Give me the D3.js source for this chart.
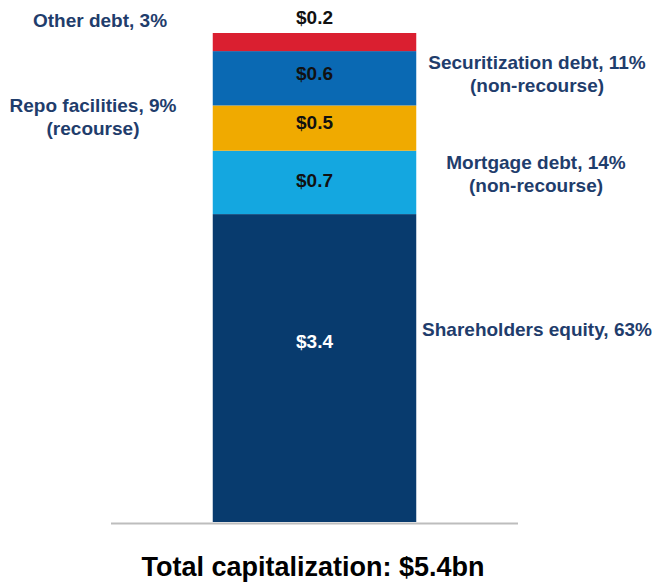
<!DOCTYPE html>
<html>
<head>
<meta charset="utf-8">
<script src="https://cdn.jsdelivr.net/npm/d3@7"></script>
<style>
  html, body { margin: 0; padding: 0; background: #fff; }
  svg { display: block; font-family: "Liberation Sans", Arial, sans-serif; font-weight: bold; }
</style>
</head>
<body>
<svg id="chart" width="656" height="582"></svg>
<script>
// Capital structure components, bottom to top ($bn)
const segments = ["Shareholders equity", "Mortgage debt", "Repo facilities", "Securitization debt", "Other debt"];
const values = [3.4, 0.7, 0.5, 0.6, 0.2];
const valueLabels = ["$3.4", "$0.7", "$0.5", "$0.6", "$0.2"];
const shareLabels = ["Shareholders equity, 63%", "Mortgage debt, 14%", "Repo facilities, 9%", "Securitization debt, 11%", "Other debt, 3%"];
const subLabels = ["", "(non-recourse)", "(recourse)", "(non-recourse)", ""];
const colors = ["#083b6e", "#14a7e0", "#f0aa00", "#0a69b3", "#da1f30"];
const valueColors = ["#ffffff", "#111111", "#111111", "#111111", "#111111"];
const categories = ["Total capitalization"];
const totalLabel = "Total capitalization: $5.4bn";

const svg = d3.select("#chart");
const total = d3.sum(values);

const y = d3.scaleLinear().domain([0, total]).range([522, 33]);
const x = d3.scaleBand().domain(categories).range([111, 518]).paddingInner(0).paddingOuter(0.5);

// stack offsets
const stacked = [];
let acc = 0;
values.forEach((v, i) => { stacked.push({ i, y0: acc, y1: acc + v }); acc += v; });

const g = svg.append("g");

g.selectAll("rect.seg")
  .data(stacked)
  .join("rect")
  .attr("class", "seg")
  .attr("x", x(categories[0]))
  .attr("width", x.bandwidth())
  .attr("y", d => y(d.y1))
  .attr("height", d => y(d.y0) - y(d.y1))
  .attr("fill", d => colors[d.i]);

// baseline
g.append("line")
  .attr("x1", x.range()[0]).attr("x2", x.range()[1])
  .attr("y1", y(0) + 1.5).attr("y2", y(0) + 1.5)
  .attr("stroke", "#bdbdbd").attr("stroke-width", 2);

const cx = x(categories[0]) + x.bandwidth() / 2;
const fs = 19;
const capMid = 7;

// value labels: inside each segment, above the bar for the thin top one
const valueOffset = [-27, -2, -6, -5, 0];
g.selectAll("text.val")
  .data(stacked)
  .join("text")
  .attr("class", "val")
  .attr("x", cx)
  .attr("y", d => d.i === 4 ? y(d.y1) - 16 + capMid : (y(d.y0) + y(d.y1)) / 2 + valueOffset[d.i] + capMid)
  .attr("text-anchor", "middle")
  .attr("font-size", fs)
  .attr("fill", d => valueColors[d.i])
  .text(d => valueLabels[d.i]);

// category labels on both sides of the bar
const labelColor = "#1f3d6c";
const side = [
  { x: 537, dy: -39 }, // equity
  { x: 536, dy: -20 }, // mortgage
  { x: 93,  dy: -23 }, // repo
  { x: 537, dy: -16 }, // securitization
  { x: 100, dy: -22 }  // other
];

stacked.forEach(d => {
  const s = side[d.i];
  const mid = (y(d.y0) + y(d.y1)) / 2;
  const t = g.append("text")
    .attr("x", s.x)
    .attr("y", mid + s.dy + capMid)
    .attr("text-anchor", "middle")
    .attr("font-size", fs)
    .attr("fill", labelColor);
  t.append("tspan").attr("x", s.x).text(shareLabels[d.i]);
  if (subLabels[d.i]) t.append("tspan").attr("x", s.x).attr("dy", 23).text(subLabels[d.i]);
});

// footer title
svg.append("text")
  .attr("x", 313)
  .attr("y", 576)
  .attr("text-anchor", "middle")
  .attr("font-size", 27)
  .attr("fill", "#000")
  .text(totalLabel);
</script>
</body>
</html>
